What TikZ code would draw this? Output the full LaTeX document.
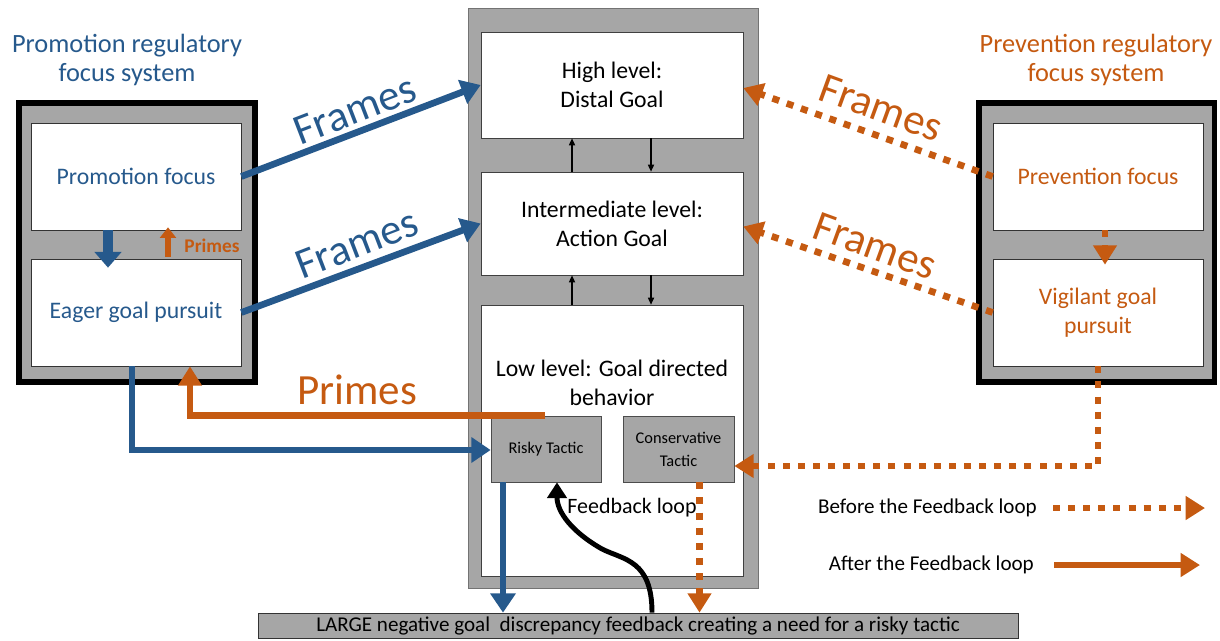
\documentclass[tikz,border=0pt]{standalone}
\usepackage{fontspec}
\setmainfont{Carlito}
\usetikzlibrary{arrows.meta,calc}
\definecolor{promoblue}{RGB}{38,89,140}
\definecolor{prevorange}{RGB}{197,90,17}
\definecolor{panelgrey}{RGB}{166,166,166}
\newcommand{\labelsize}{\fontsize{13.5}{16.5}\selectfont}
\newcommand{\smallsize}{\fontsize{12}{14}\selectfont}
\tikzset{
	levelbox/.style={draw=black!75, fill=white, minimum width=5.24cm, align=center, font=\labelsize, inner sep=0pt},
	focusbox/.style={draw=black!80, fill=white, minimum width=4.2cm, minimum height=2.14cm, align=center, font=\labelsize, inner sep=0pt},
	systembox/.style={draw=black, line width=3.4pt, fill=panelgrey, minimum width=4.72cm, minimum height=5.58cm},
	tacticbox/.style={draw=black!70, fill=panelgrey, minimum height=1.32cm, align=center, font=\fontsize{9.3}{13}\selectfont, inner sep=0pt},
	framesblue/.style={promoblue, line width=3.8pt, -{Triangle[width=14pt,length=11pt]}},
	framesorange/.style={prevorange, line width=3.8pt, dash pattern=on 4pt off 4.6pt, -{Triangle[width=13pt,length=11pt]}},
	primesorange/.style={prevorange, line width=3.8pt, -{Triangle[width=13pt,length=11pt]}},
	levelarrow/.style={black, line width=0.7pt, -{Triangle[width=3.5pt,length=4pt]}},
	bigword/.style={font=\fontsize{24.5}{28}\selectfont},
	titletext/.style={align=center, font=\fontsize{15}{17}\selectfont}
}
\begin{document}
\begin{tikzpicture}[x=0.02cm, y=-0.02cm]
	\useasboundingbox (0,0) rectangle (1220,640);

	%the goal hierarchy in the middle
	\node[draw=black!55, fill=panelgrey, minimum width=5.8cm, minimum height=11.6cm] (column) at (613,298) {};
	\node[levelbox, minimum height=2.12cm] (high) at (612,85) {High level:\\Distal Goal};
	\node[levelbox, minimum height=2.06cm] (mid) at (612,223.5) {Intermediate level:\\Action Goal};
	\node[levelbox, minimum height=5.42cm] (low) at (612,440.5) {};
	\node[align=center, font=\labelsize] (lowtext) at (612,383) {Low level: Goal directed\\behavior};
	\node[tacticbox, minimum width=2.2cm] (risky) at (546,449) {Risky Tactic};
	\node[tacticbox, minimum width=2.22cm] (cons) at (678.5,449) {Conservative\\Tactic};

	%links between the levels
	\draw[levelarrow] (mid.north -| 572,0) -- (high.south -| 572,0);
	\draw[levelarrow] (high.south -| 651,0) -- (mid.north -| 651,0);
	\draw[levelarrow] (low.north -| 572,0) -- (mid.south -| 572,0);
	\draw[levelarrow] (mid.south -| 651,0) -- (low.north -| 651,0);

	%promotion system on the left
	\node[titletext, promoblue] (promotitle) at (127,60) {Promotion regulatory\\focus system};
	\node[systembox] (promosys) at (137,242.5) {};
	\node[focusbox, text=promoblue] (promo) at (136,176.5) {Promotion focus};
	\node[focusbox, text=promoblue] (eager) at (136,312.5) {Eager goal pursuit};
	\draw[promoblue, line width=5.5pt, -{Triangle[width=15pt,length=9pt]}] ($(promo.south)+(-28,0)$) -- ($(eager.north)+(-28,9)$);
	\draw[prevorange, line width=3pt, -{Triangle[width=9pt,length=6pt]}] ($(eager.north)+(32,-2)$) -- ($(promo.south)+(32,-3)$);
	\node[font=\bfseries\fontsize{11}{13}\selectfont, prevorange] (primessmall) at (212,246) {Primes};

	%prevention system on the right
	\node[titletext, prevorange] (prevtitle) at (1096,60) {Prevention regulatory\\focus system};
	\node[systembox] (prevsys) at (1096.5,242.5) {};
	\node[focusbox, text=prevorange] (prev) at (1098,176.5) {Prevention focus};
	\node[focusbox, text=prevorange] (vig) at (1098,312.5) {Vigilant goal\\pursuit};
	\draw[framesorange] ($(prev.south)+(7,0)$) -- ($(vig.north)+(7,6)$);

	%framing arrows
	\draw[framesblue] (promo.east) -- (high.west);
	\draw[framesblue] (eager.east) -- (mid.west);
	\draw[framesorange] (prev.west) -- ($(high.east)+(0,3)$);
	\draw[framesorange] (vig.west) -- ($(mid.east)+(0,3)$);
	\node[bigword, promoblue, rotate=21] (frames1) at (355,110) {Frames};
	\node[bigword, promoblue, rotate=21] (frames2) at (357,244) {Frames};
	\node[bigword, prevorange, rotate=-20] (frames3) at (881,108) {Frames};
	\node[bigword, prevorange, rotate=-20] (frames4) at (875,246) {Frames};

	%tactics and priming
	\draw[framesblue] ($(eager.south)+(-4,0)$) |- ($(risky.west)+(0,1)$);
	\draw[primesorange] ($(risky.north)+(-1,0)$) -| ($(eager.south)+(54,0)$);
	\node[bigword, prevorange] (primesbig) at (357,390) {Primes};
	\draw[framesorange] (vig.south) |- ($(cons.east)+(0,17)$);

	%feedback from the discrepancy bar
	\node[draw=black!80, fill=panelgrey, minimum width=15.2cm, minimum height=0.5cm, inner sep=0pt, font=\smallsize] (bar) at (638,625.5) {LARGE negative goal\ \ discrepancy feedback creating a need for a risky tactic};
	\coordinate (riskyout) at ($(risky.south)+(-43,0)$);
	\coordinate (consout) at ($(cons.south)+(21,0)$);
	\draw[framesblue] (riskyout) -- (riskyout |- bar.north);
	\draw[framesorange] (consout) -- (consout |- bar.north);
	\coordinate (fbstart) at ($(bar.north)+(14,0)$);
	\coordinate (fbbend) at (602,549);
	\draw[line width=2.8pt, -{Triangle[width=11pt,length=9pt]}] (fbstart) .. controls (652,560) and (624,560) .. (fbbend) .. controls (572,532) and (557,512) .. ($(risky.south)+(11,0)$);
	\node[font=\fontsize{12.5}{14}\selectfont] (fblabel) at (632,508) {Feedback loop};

	%legend
	\node[anchor=east, font=\smallsize] (before) at (1043,508) {Before the Feedback loop};
	\coordinate (beforeend) at (1205,508);
	\draw[framesorange] ($(before.east)+(10,0)$) -- (beforeend);
	\node[anchor=east, font=\smallsize] (after) at (1040,565) {After the Feedback loop};
	\coordinate (afterend) at (1200,565);
	\draw[primesorange] ($(after.east)+(14,0)$) -- (afterend);
\end{tikzpicture}
\end{document}
